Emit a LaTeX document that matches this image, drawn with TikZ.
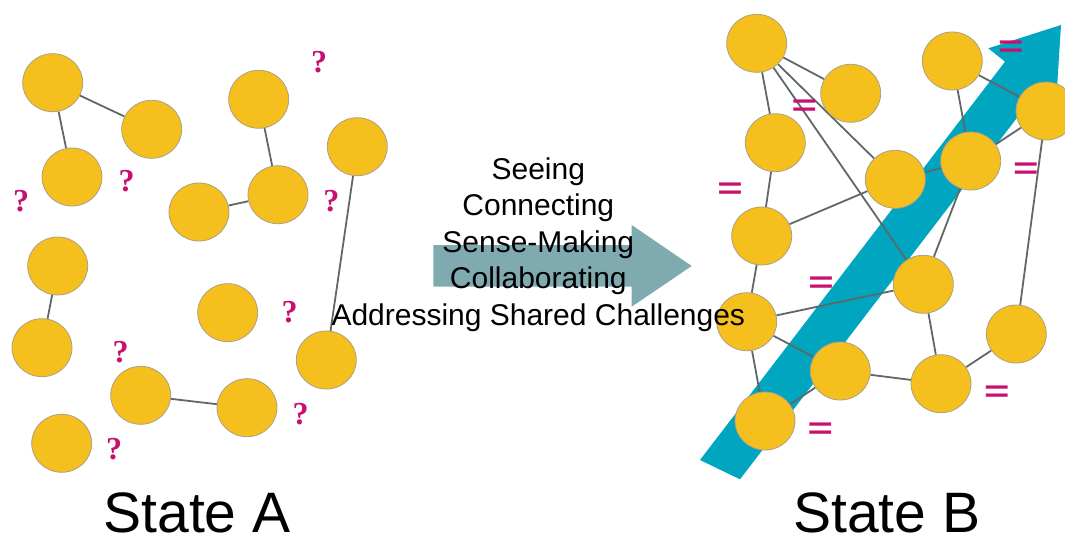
\documentclass[tikz,border=0pt]{standalone}
\usepackage{fontspec}
\setmainfont{Liberation Sans}
\newfontfamily\qfont{Liberation Serif}
\usetikzlibrary{shapes.geometric}
\definecolor{dotfill}{RGB}{245,191,30}
\definecolor{dotline}{RGB}{170,160,130}
\definecolor{edgecol}{RGB}{94,104,104}
\definecolor{mag}{RGB}{200,16,112}
\definecolor{teal1}{RGB}{0,165,192}
\definecolor{teal2}{RGB}{127,170,175}
\pgfdeclarelayer{bg}
\pgfdeclarelayer{edges}
\pgfsetlayers{bg,edges,main}
\newcommand{\eqsign}{\scalebox{1.45}[1]{=}}
\tikzset{
  dot/.style={shape=ellipse, minimum width=60pt, minimum height=58pt, inner sep=0pt, fill=dotfill, draw=dotline, line width=0.8pt},
  link/.style={draw=edgecol, line width=1.8pt},
  qm/.style={text=mag, inner sep=0pt, font=\qfont\bfseries\fontsize{32}{32}\selectfont},
  eq/.style={text=mag, inner sep=0pt, font=\bfseries\fontsize{30}{30}\selectfont},
  midtext/.style={anchor=base, inner sep=0pt, font=\fontsize{30}{30}\selectfont},
  statetext/.style={anchor=base, inner sep=0pt, font=\fontsize{57}{57}\selectfont}
}
\begin{document}
\begin{tikzpicture}[x=1pt,y=-1pt]
\useasboundingbox (0,0) rectangle (1065,540);
% arrows
\begin{pgfonlayer}{bg}
\fill[teal2] (433.3,245) -- (631.7,245) -- (631.7,225) -- (691.7,266) -- (631.7,306.7) -- (631.7,286.7) -- (433.3,286.7) -- cycle;
\fill[teal1] (700,460) -- (1005,61.7) -- (988.3,48.3) -- (1061,25) -- (1056.2,101) -- (1039.6,88.3) -- (740,479.3) -- cycle;
\end{pgfonlayer}
% State A nodes
\node[dot] (a1) at (52.7,82.7) {};
\node[dot] (a2) at (151.7,129.3) {};
\node[dot] (a3) at (72,177) {};
\node[dot] (a4) at (258.7,99.3) {};
\node[dot] (a5) at (278,194.7) {};
\node[dot] (a6) at (199,212) {};
\node[dot] (a7) at (357.3,146.7) {};
\node[dot] (a8) at (57.7,266) {};
\node[dot] (a9) at (42,347.7) {};
\node[dot] (a10) at (227.7,312.7) {};
\node[dot] (a11) at (326.3,360) {};
\node[dot] (a12) at (140.7,395.3) {};
\node[dot] (a13) at (247,407.7) {};
\node[dot] (a14) at (61.7,443.3) {};
% State B nodes
\node[dot] (b1) at (756.7,43.3) {};
\node[dot] (b2) at (850.7,93.3) {};
\node[dot] (b3) at (952.3,61) {};
\node[dot] (b4) at (1046,111) {};
\node[dot] (b5) at (775.3,142.7) {};
\node[dot] (b6) at (895.3,179.3) {};
\node[dot] (b7) at (970.7,161) {};
\node[dot] (b8) at (761.7,236) {};
\node[dot] (b9) at (923.3,284.3) {};
\node[dot] (b10) at (746.7,321.7) {};
\node[dot] (b11) at (1016.3,334) {};
\node[dot] (b12) at (840.3,371) {};
\node[dot] (b13) at (941,383.7) {};
\node[dot] (b14) at (765,421) {};
% edges
\begin{pgfonlayer}{edges}
\foreach \u/\v in {a1/a2,a1/a3,a4/a5,a6/a5,a7/a11,a8/a9,a12/a13,
  b1/b2,b1/b5,b1/b6,b1/b9,b3/b4,b3/b7,b7/b4,b6/b7,b5/b8,b8/b6,b7/b9,b4/b11,
  b9/b10,b9/b13,b13/b11,b12/b13,b10/b12,b10/b14,b14/b12,b8/b10}
  \draw[link] (\u) -- (\v);
\end{pgfonlayer}
% question marks
\node[qm] (q1) at (319,61.7) {?};
\node[qm] (q2) at (126.7,180.7) {?};
\node[qm] (q3) at (21,200.7) {?};
\node[qm] (q4) at (331.3,200.7) {?};
\node[qm] (q5) at (289.7,311.7) {?};
\node[qm] (q6) at (120.7,352) {?};
\node[qm] (q7) at (300.7,414) {?};
\node[qm] (q8) at (114,449.3) {?};
% equals
\node[eq] (e1) at (804.3,107.3) {\eqsign};
\node[eq] (e2) at (1010.7,48.3) {\eqsign};
\node[eq] (e3) at (730,191) {\eqsign};
\node[eq] (e4) at (1025.7,170.7) {\eqsign};
\node[eq] (e5) at (821,285) {\eqsign};
\node[eq] (e6) at (996.7,394) {\eqsign};
\node[eq] (e7) at (820.3,431) {\eqsign};
% middle text
\node[midtext] (t1) at (538.3,179.3) {Seeing};
\node[midtext] (t2) at (538.3,215.8) {Connecting};
\node[midtext] (t3) at (538.3,252.3) {Sense-Making};
\node[midtext] (t4) at (538.3,288.8) {Collaborating};
\node[midtext] (t5) at (538.3,325.3) {Addressing Shared Challenges};
% state labels
\node[statetext] (sa) at (197,532) {State A};
\node[statetext] (sb) at (886.7,532) {State B};
\end{tikzpicture}
\end{document}
